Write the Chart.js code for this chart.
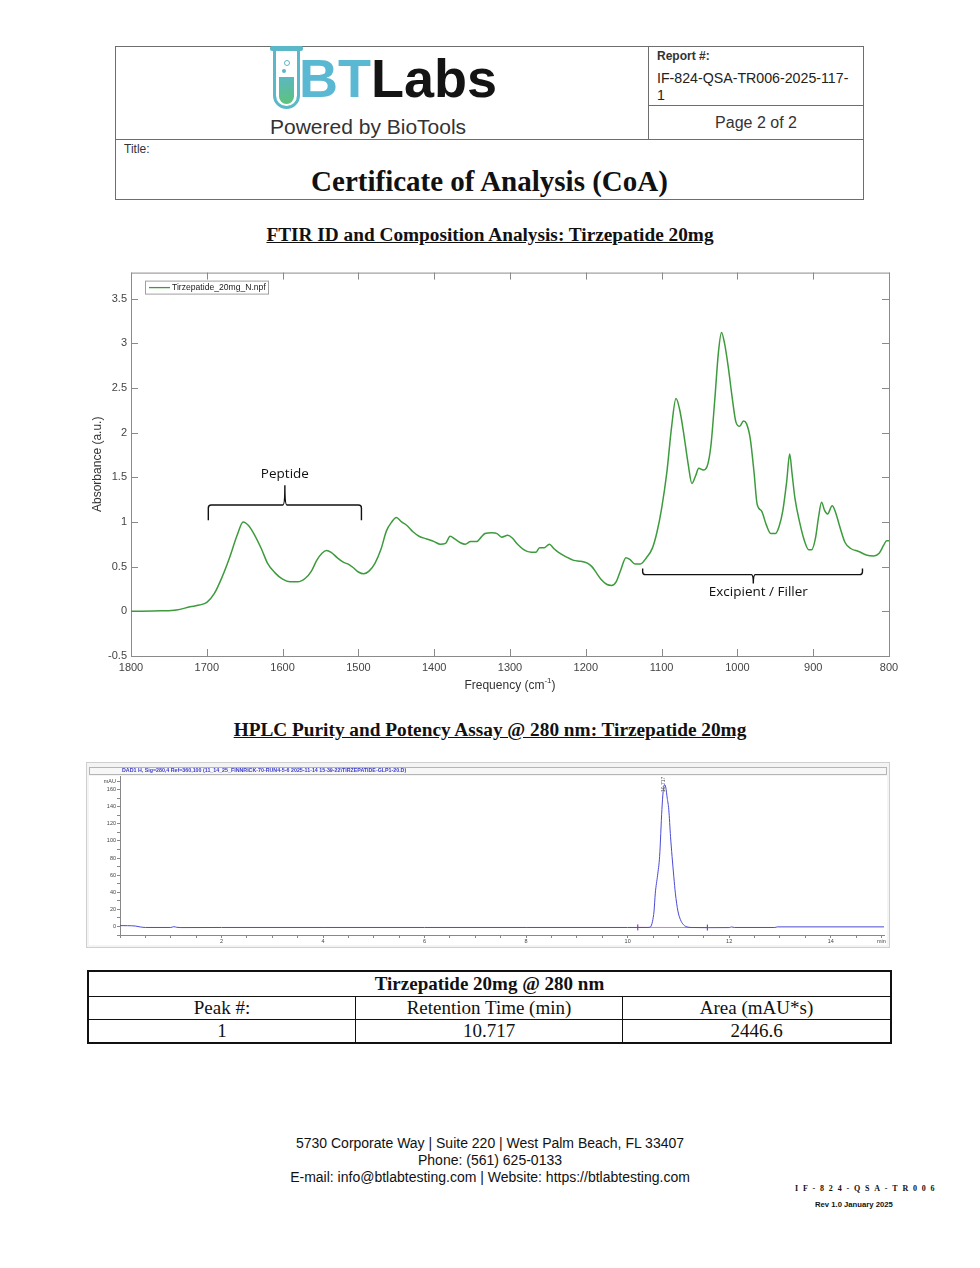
<!DOCTYPE html>
<html>
<head>
<meta charset="utf-8">
<script src="https://cdn.jsdelivr.net/npm/chart.js@4.4.1/dist/chart.umd.min.js"></script>
<style>
  body { margin: 0; background: #fff; width: 980px; height: 1268px; position: relative; overflow: hidden; font-family: "Liberation Sans", Arial, sans-serif; color: #111; }
  .abs { position: absolute; }
  .line { position: absolute; background: #6e6e6e; }
  .serif { font-family: "Liberation Serif", "Times New Roman", serif; }
  .sec-title { position: absolute; left: 0; width: 980px; text-align: center; font-weight: bold; font-size: 19.3px; text-decoration: underline; line-height: 22px; }
  #coa { position: absolute; left: 87px; top: 970px; width: 805px; border-collapse: collapse; border: 2px solid #111; font-size: 19px; }
  #coa td { border: 1.5px solid #111; text-align: center; height: 22px; line-height: 22px; padding: 0; }
  .foot { position: absolute; left: 0; width: 980px; text-align: center; font-size: 14px; line-height: 17px; }
</style>
</head>
<body>

<!-- header box -->
<div class="abs" style="left:115px;top:46px;width:749px;height:154px;border:1px solid #6e6e6e;box-sizing:border-box;"></div>
<div class="line" style="left:648px;top:46px;width:1px;height:93px;"></div>
<div class="line" style="left:115px;top:139px;width:749px;height:1px;"></div>
<div class="line" style="left:648px;top:105px;width:216px;height:1px;"></div>

<!-- logo -->
<div class="abs" style="left:270px;top:46px;width:33px;height:5px;background:#5bb8c8;border-radius:2px;"></div>
<div class="abs" style="left:273px;top:49px;width:27px;height:60px;border:3px solid #5bb8c8;border-top:none;border-radius:0 0 14px 14px;box-sizing:border-box;"></div>
<div class="abs" style="left:279px;top:77px;width:15px;height:27px;background:linear-gradient(#5bb8c0,#5dc27c);border-radius:0 0 8px 8px;"></div>
<div class="abs" style="left:284px;top:60px;width:4px;height:4px;border:1px solid #5bb8c8;border-radius:50%;"></div>
<div class="abs" style="left:282px;top:69px;width:4px;height:4px;background:#5bb8c8;border-radius:50%;"></div>
<div class="abs" style="left:299px;top:51px;font-size:54px;line-height:54px;font-weight:bold;letter-spacing:0px;"><span style="color:#5bb8d2">BT</span><span style="color:#141414">Labs</span></div>
<div class="abs" style="left:270px;top:115px;font-size:21px;line-height:24px;color:#333;">Powered by BioTools</div>

<div class="abs" style="left:657px;top:48px;font-size:12px;line-height:16px;font-weight:bold;color:#333;">Report #:</div>
<div class="abs" style="left:657px;top:70px;font-size:14.2px;line-height:17px;color:#222;">IF-824-QSA-TR006-2025-117-<br>1</div>
<div class="abs" style="left:648px;top:113px;width:216px;text-align:center;font-size:16px;line-height:20px;color:#333;">Page 2 of 2</div>
<div class="abs" style="left:124px;top:141px;font-size:12px;line-height:16px;color:#333;">Title:</div>
<div class="abs serif" style="left:115px;top:163px;width:749px;text-align:center;font-size:29px;line-height:36px;font-weight:bold;">Certificate of Analysis (CoA)</div>

<div class="sec-title serif" style="top:224px;">FTIR ID and Composition Analysis: Tirzepatide 20mg</div>
<canvas id="ftir" class="abs" style="left:80px;top:262px;" width="830" height="440"></canvas>

<div class="sec-title serif" style="top:719px;">HPLC Purity and Potency Assay @ 280 nm: Tirzepatide 20mg</div>
<div class="abs" style="left:87px;top:763px;width:802px;height:184px;outline:1px solid #cfcfcf;">
  <canvas id="hplc" style="position:absolute;left:0;top:0;" width="802" height="184"></canvas>
</div>

<table id="coa" class="serif">
  <tr><td colspan="3" style="font-weight:bold;height:24px;">Tirzepatide 20mg @ 280 nm</td></tr>
  <tr><td style="width:266px;">Peak #:</td><td style="width:266px;">Retention Time (min)</td><td>Area (mAU*s)</td></tr>
  <tr><td>1</td><td>10.717</td><td>2446.6</td></tr>
</table>

<div class="foot" style="top:1135px;">5730 Corporate Way | Suite 220 | West Palm Beach, FL 33407</div>
<div class="foot" style="top:1152px;">Phone: (561) 625-0133</div>
<div class="foot" style="top:1169px;">E-mail: info@btlabtesting.com | Website: https://btlabtesting.com</div>
<div class="abs serif" style="left:795px;top:1184px;font-size:8px;line-height:10px;font-weight:bold;letter-spacing:4.8px;">IF-824-QSA-TR006</div>
<div class="abs" style="left:815px;top:1200px;font-size:7.7px;line-height:10px;font-weight:bold;">Rev 1.0 January 2025</div>

<script>
//FTIR spectrum (frequency in cm-1, absorbance in a.u.)
const ftirFreq = [1800, 1760, 1740, 1722, 1710, 1700, 1690, 1680, 1670, 1660, 1652, 1645, 1638, 1628, 1620, 1610, 1600, 1590, 1580, 1570,
  1562, 1555, 1548, 1542, 1536, 1528, 1520, 1514, 1507, 1500, 1493, 1486, 1478, 1470, 1463, 1456, 1450, 1443, 1436, 1428,
  1420, 1410, 1400, 1392, 1385, 1379, 1373, 1366, 1359, 1352, 1344, 1338, 1333, 1324, 1317, 1311, 1303, 1297, 1290, 1282,
  1272, 1266, 1261, 1255, 1248, 1242, 1236, 1226, 1216, 1207, 1198, 1192, 1186, 1180, 1172, 1166, 1160, 1154, 1147, 1142,
  1135, 1128, 1120, 1112, 1106, 1100, 1093, 1087, 1081, 1076, 1071, 1065, 1060, 1055, 1051, 1045, 1040, 1035, 1030, 1025,
  1021, 1017, 1012, 1007, 1002, 997, 992, 988, 983, 978, 974, 968, 962, 956, 950, 945, 940, 935, 931, 928,
  924, 918, 912, 906, 902, 897, 893, 889, 885, 881, 875, 871, 865, 858, 850, 840, 830, 820, 813, 807, 803, 800];
const ftirAbs = [0.00, 0.005, 0.015, 0.05, 0.07, 0.10, 0.20, 0.38, 0.60, 0.85, 1.00, 0.96, 0.87, 0.70, 0.54, 0.43, 0.36, 0.33, 0.33, 0.37,
  0.45, 0.57, 0.65, 0.68, 0.66, 0.60, 0.55, 0.53, 0.49, 0.44, 0.42, 0.45, 0.54, 0.70, 0.90, 1.00, 1.05, 1.00, 0.96, 0.89,
  0.84, 0.81, 0.78, 0.75, 0.76, 0.84, 0.81, 0.77, 0.75, 0.78, 0.78, 0.83, 0.87, 0.88, 0.87, 0.83, 0.85, 0.82, 0.75, 0.69,
  0.66, 0.66, 0.71, 0.71, 0.75, 0.70, 0.66, 0.61, 0.57, 0.56, 0.54, 0.50, 0.43, 0.36, 0.30, 0.29, 0.33, 0.46, 0.60, 0.58,
  0.53, 0.53, 0.60, 0.71, 0.89, 1.15, 1.56, 2.05, 2.38, 2.25, 2.00, 1.65, 1.43, 1.52, 1.60, 1.58, 1.62, 1.85, 2.35, 2.90,
  3.12, 3.00, 2.73, 2.40, 2.12, 2.07, 2.13, 2.10, 1.93, 1.55, 1.20, 1.12, 0.97, 0.87, 0.87, 0.95, 1.13, 1.45, 1.76, 1.55,
  1.26, 1.00, 0.80, 0.69, 0.69, 0.82, 1.05, 1.22, 1.13, 1.09, 1.18, 1.12, 0.95, 0.77, 0.70, 0.67, 0.63, 0.62, 0.65, 0.74, 0.79, 0.79];
const ftirXTicks = [1800, 1700, 1600, 1500, 1400, 1300, 1200, 1100, 1000, 900, 800];
const ftirYTicks = [-0.5, 0, 0.5, 1, 1.5, 2, 2.5, 3, 3.5];
const ftirLabel = 'Tirzepatide_20mg_N.npf';

//Brackets drawn on the FTIR plot (data units)
const peptideBracket = { from: 1698, to: 1496, mid: 1597, end: 1.02, bar: 1.19, tip: 1.41, text: 'Peptide' };
const fillerBracket = { from: 1125, to: 835, mid: 979, end: 0.48, bar: 0.41, tip: 0.31, text: 'Excipient / Filler' };

//HPLC trace (time in min, signal in mAU)
const hplcTime = [0, 0.15, 0.30, 0.40, 0.50, 1.00, 1.06, 1.12, 1.20, 2, 4, 6, 8, 10, 10.40,
  10.45, 10.49, 10.52, 10.545, 10.59, 10.63, 10.675, 10.70, 10.725, 10.75, 10.78, 10.81, 10.845, 10.875, 10.91,
  10.94, 10.99, 11.04, 11.10, 11.17, 11.25, 11.60, 12.00, 12.05, 12.10, 12.90, 12.95, 15.05];
const hplcSignal = [1.0, 0.9, 0.5, -0.6, -1.2, -1.2, -0.3, -1.0, -1.3, -1.2, -1.2, -1.2, -1.2, -1.2, -1.2,
  -0.5, 6, 18, 39, 60, 82, 137, 158, 166, 163, 150, 137, 105, 82, 58,
  39, 18, 8, 2, -0.5, -1.2, -1.4, -1.3, -0.6, -1.2, -1.2, -0.5, -0.5];
const hplcBaseTime = [10.2, 11.57];
const hplcBaseSignal = [-1.1, -1.3];
const hplcPeakTime = 10.717;
const hplcHeader = 'DAD1 H, Sig=280,4 Ref=360,100 (11_14_25_FINNRICK-70-RUN4-5-6 2025-11-14 15-39-22\\TIRZEPATIDE-GLP1-20.D)';

const green = '#3d9b3d';
const axisGrey = '#8a8a8a';

//Box, inward ticks, legend, brackets and axis titles for the FTIR plot
const ftirDecor = {
    id: 'ftirDecor',
    beforeDatasetsDraw(chart) {
        const c = chart.ctx;
        const a = chart.chartArea;
        const xs = chart.scales.x;
        const ys = chart.scales.y;
        c.save();
        c.strokeStyle = axisGrey;
        c.lineWidth = 1;
        c.strokeRect(a.left + 0.5, a.top + 0.5, a.right - a.left, a.bottom - a.top);
        c.beginPath();
        ftirXTicks.forEach(v => {
            const px = Math.round(xs.getPixelForValue(v)) + 0.5;
            c.moveTo(px, a.bottom); c.lineTo(px, a.bottom - 7);
            c.moveTo(px, a.top); c.lineTo(px, a.top + 7);
        });
        ftirYTicks.forEach(v => {
            const py = Math.round(ys.getPixelForValue(v)) + 0.5;
            c.moveTo(a.left, py); c.lineTo(a.left + 7, py);
            c.moveTo(a.right, py); c.lineTo(a.right - 7, py);
        });
        c.stroke();

        //axis titles
        c.fillStyle = '#333';
        c.textBaseline = 'middle';
        const t1 = 'Frequency (cm';
        c.font = '12px "Liberation Sans", Arial, sans-serif';
        const w1 = c.measureText(t1).width;
        c.font = '8px "Liberation Sans", Arial, sans-serif';
        const w2 = c.measureText('-1').width;
        c.font = '12px "Liberation Sans", Arial, sans-serif';
        const w3 = c.measureText(')').width;
        const tx = (a.left + a.right) / 2 - (w1 + w2 + w3) / 2;
        const ty = a.bottom + 30;
        c.textAlign = 'left';
        c.fillText(t1, tx, ty);
        c.font = '8px "Liberation Sans", Arial, sans-serif';
        c.fillText('-1', tx + w1, ty - 5);
        c.font = '12px "Liberation Sans", Arial, sans-serif';
        c.fillText(')', tx + w1 + w2, ty);
        c.translate(18, (a.top + a.bottom) / 2);
        c.rotate(-Math.PI / 2);
        c.textAlign = 'center';
        c.fillText('Absorbance (a.u.)', 0, 0);
        c.restore();
    },
    afterDatasetsDraw(chart) {
        const c = chart.ctx;
        const a = chart.chartArea;
        const xs = chart.scales.x;
        const ys = chart.scales.y;
        c.save();
        //legend
        c.fillStyle = '#fff';
        c.fillRect(a.left + 14, a.top + 8, 123, 13);
        c.strokeStyle = '#a0a0a0';
        c.lineWidth = 1;
        c.strokeRect(a.left + 14.5, a.top + 8.5, 123, 13);
        c.strokeStyle = green;
        c.lineWidth = 1.3;
        c.beginPath();
        c.moveTo(a.left + 18, a.top + 15); c.lineTo(a.left + 39, a.top + 15);
        c.stroke();
        c.fillStyle = '#222';
        c.font = '8.6px "Liberation Sans", Arial, sans-serif';
        c.textBaseline = 'middle';
        c.fillText(ftirLabel, a.left + 41, a.top + 15);

        //brackets
        c.strokeStyle = '#111';
        c.fillStyle = '#111';
        c.lineWidth = 1.4;
        [peptideBracket, fillerBracket].forEach(b => {
            const x1 = xs.getPixelForValue(b.from);
            const x2 = xs.getPixelForValue(b.to);
            const xm = xs.getPixelForValue(b.mid);
            const ye = ys.getPixelForValue(b.end);
            const yb = ys.getPixelForValue(b.bar);
            const yt = ys.getPixelForValue(b.tip);
            const dir = ye > yb ? 1 : -1;
            c.beginPath();
            c.moveTo(x1, ye);
            c.lineTo(x1, yb + dir * 3);
            c.quadraticCurveTo(x1, yb, x1 + 3, yb);
            c.lineTo(xm - 2, yb);
            c.quadraticCurveTo(xm, yb, xm, yt);
            c.quadraticCurveTo(xm, yb, xm + 2, yb);
            c.lineTo(x2 - 3, yb);
            c.quadraticCurveTo(x2, yb, x2, yb + dir * 3);
            c.lineTo(x2, ye);
            c.stroke();
        });
        c.font = '13.5px "Open Sans", "Noto Sans", sans-serif';
        c.textAlign = 'center';
        c.fillText(peptideBracket.text, xs.getPixelForValue(peptideBracket.mid), ys.getPixelForValue(peptideBracket.tip) - 11);
        c.fillText(fillerBracket.text, xs.getPixelForValue(fillerBracket.mid) + 5, ys.getPixelForValue(fillerBracket.tip) + 9);
        c.restore();
    }
};

const tickFont = { family: '"Liberation Sans", Arial, sans-serif', size: 11 };

const ftirChart = new Chart(document.querySelector('#ftir'), {
    type: 'line',
    data: {
        datasets: [{
            label: ftirLabel,
            data: ftirFreq.map((f, i) => ({ x: f, y: ftirAbs[i] })),
            borderColor: green,
            borderWidth: 1.5,
            pointRadius: 0,
            cubicInterpolationMode: 'monotone',
            fill: false
        }]
    },
    options: {
        responsive: false,
        animation: false,
        layout: { padding: { top: 10, right: 21, left: 0, bottom: 0 } },
        scales: {
            x: {
                type: 'linear',
                reverse: true,
                min: 800,
                max: 1800,
                afterFit: s => { s.height = 46; },
                afterBuildTicks: s => { s.ticks = ftirXTicks.map(v => ({ value: v })); },
                ticks: { callback: v => String(v), font: tickFont, color: '#444', padding: 5, maxRotation: 0, autoSkip: false },
                grid: { display: false, drawTicks: false },
                border: { display: false }
            },
            y: {
                min: -0.5,
                max: 3.79,
                afterFit: s => { s.width = 51; },
                afterBuildTicks: s => { s.ticks = ftirYTicks.map(v => ({ value: v })); },
                ticks: { callback: v => String(v), font: tickFont, color: '#444', padding: 4 },
                grid: { display: false, drawTicks: false },
                border: { display: false }
            }
        },
        plugins: {
            legend: { display: false },
            tooltip: { enabled: false }
        }
    },
    plugins: [ftirDecor]
});

//Header strip and peak label for the HPLC plot
const hplcDecor = {
    id: 'hplcDecor',
    beforeDraw(chart) {
        const c = chart.ctx;
        c.save();
        c.fillStyle = '#f4f4f4';
        c.fillRect(0, 0, chart.width, chart.height);
        c.fillStyle = '#fff';
        c.fillRect(2, 13, chart.width - 4, chart.height - 15);
        c.fillStyle = '#f7f7f7';
        c.fillRect(2, 4, chart.width - 4, 7);
        c.strokeStyle = '#b5b5b5';
        c.lineWidth = 1;
        c.strokeRect(2.5, 4.5, chart.width - 5, 7);
        c.fillStyle = '#3b3bc8';
        c.font = 'bold 5.3px "Liberation Sans", Arial, sans-serif';
        c.textBaseline = 'middle';
        c.fillText(hplcHeader, 35, 8);
        c.restore();
    },
    afterDatasetsDraw(chart) {
        const c = chart.ctx;
        const xs = chart.scales.x;
        c.save();
        c.fillStyle = '#555';
        c.font = '5px "Liberation Sans", Arial, sans-serif';
        c.translate(xs.getPixelForValue(hplcPeakTime) - 0.5, 29);
        c.rotate(-Math.PI / 2);
        c.textBaseline = 'middle';
        c.fillText(String(hplcPeakTime), 0, 0);
        c.restore();
    }
};

const smallFont = { family: '"Liberation Sans", Arial, sans-serif', size: 5.5 };

const hplcChart = new Chart(document.querySelector('#hplc'), {
    type: 'line',
    data: {
        datasets: [{
            data: hplcTime.map((t, i) => ({ x: t, y: hplcSignal[i] })),
            borderColor: '#4b4bd6',
            borderWidth: 1,
            pointRadius: 0,
            cubicInterpolationMode: 'monotone',
            fill: false
        }, {
            data: hplcBaseTime.map((t, i) => ({ x: t, y: hplcBaseSignal[i] })),
            borderColor: '#e46fe0',
            borderWidth: 1,
            pointStyle: 'line',
            rotation: 90,
            pointRadius: 3,
            pointBorderColor: '#6a2aa0',
            fill: false
        }]
    },
    options: {
        responsive: false,
        animation: false,
        layout: { padding: { top: 13, right: 4, left: 0, bottom: 0 } },
        scales: {
            x: {
                type: 'linear',
                min: 0,
                max: 15.05,
                afterFit: s => { s.height = 12; },
                ticks: {
                    stepSize: 0.5,
                    includeBounds: false,
                    autoSkip: false,
                    maxRotation: 0,
                    font: smallFont,
                    color: '#444',
                    padding: 0,
                    callback: v => v === 15 ? 'min' : (v > 0 && v % 2 === 0 ? String(v) : '')
                },
                grid: { drawOnChartArea: false, tickLength: 3, color: '#888' },
                border: { color: '#888' }
            },
            y: {
                min: -10,
                max: 176,
                afterFit: s => { s.width = 33; },
                ticks: {
                    stepSize: 10,
                    includeBounds: false,
                    autoSkip: false,
                    font: smallFont,
                    color: '#444',
                    padding: 1,
                    callback: v => v === 170 ? 'mAU' : (v >= 0 && v % 20 === 0 ? String(v) : '')
                },
                grid: { drawOnChartArea: false, tickLength: 3, color: '#888' },
                border: { color: '#888' }
            }
        },
        plugins: {
            legend: { display: false },
            tooltip: { enabled: false }
        }
    },
    plugins: [hplcDecor]
});
</script>
</body>
</html>
